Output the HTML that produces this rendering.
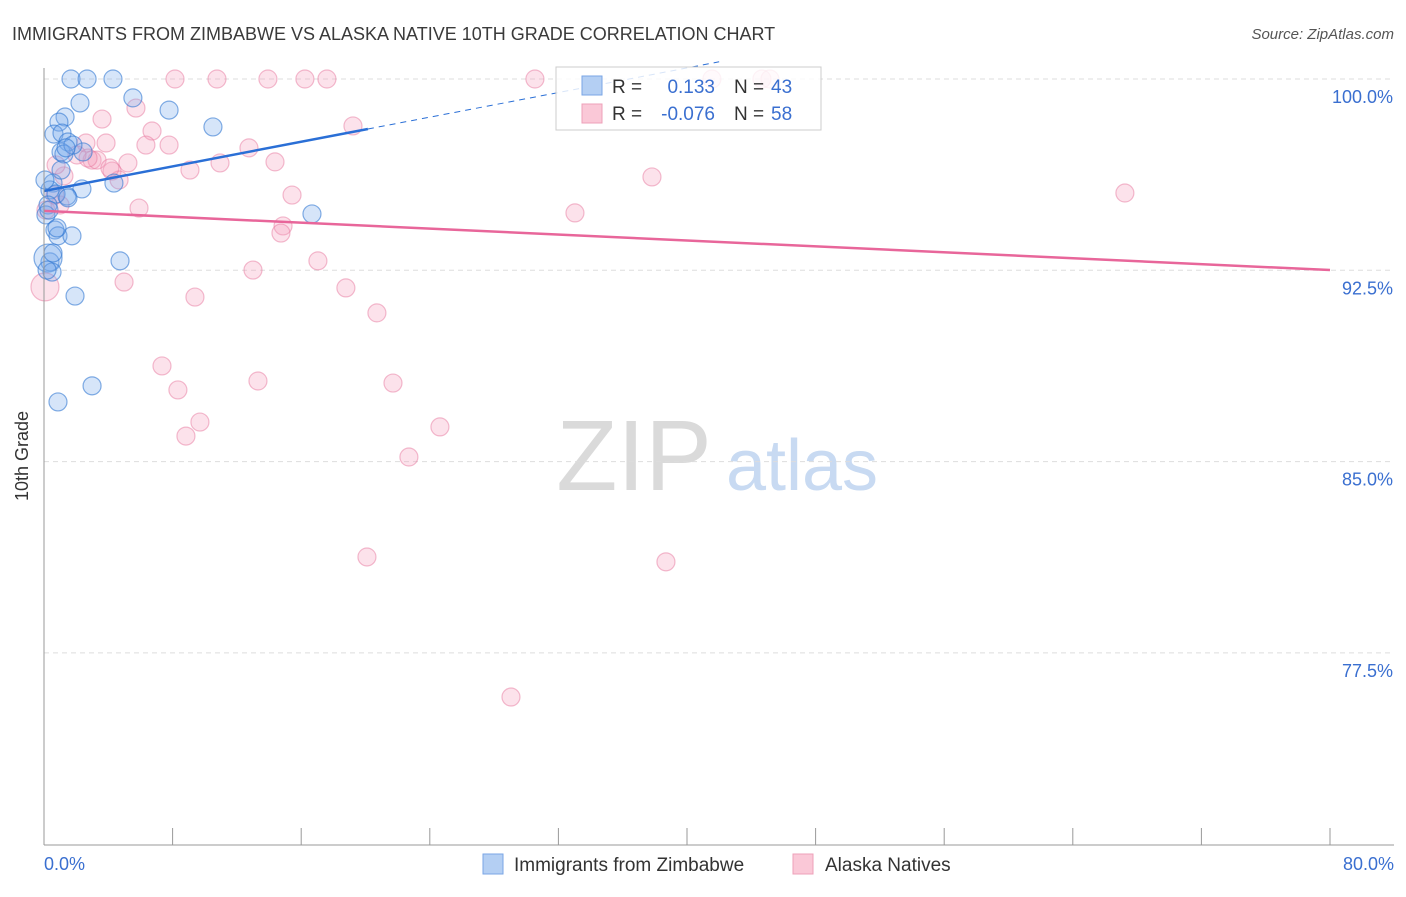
<!DOCTYPE html>
<html><head><meta charset="utf-8"><style>
body{margin:0;background:#fff;font-family:"Liberation Sans",sans-serif;}
svg text{font-family:"Liberation Sans",sans-serif;}
</style></head><body>
<svg id="c" width="1406" height="892" xmlns="http://www.w3.org/2000/svg">
<text x="12" y="40" font-size="18" fill="#3a3a3a">IMMIGRANTS FROM ZIMBABWE VS ALASKA NATIVE 10TH GRADE CORRELATION CHART</text>
<text x="1394" y="39" font-size="15" fill="#555" font-style="italic" text-anchor="end">Source: ZipAtlas.com</text>
<text x="634" y="490" font-size="100" fill="#dadada" font-family="Liberation Serif,serif" text-anchor="middle">ZIP</text>
<text x="802" y="490" font-size="72" fill="#c8daf2" text-anchor="middle">atlas</text>
<g id="grid"></g><g id="marks"></g>
<line x1="44" y1="68" x2="44" y2="845" stroke="#999"/>
<line x1="44" y1="845" x2="1394" y2="845" stroke="#999"/>
<text x="28" y="456" font-size="18" fill="#333" text-anchor="middle" transform="rotate(-90 28 456)">10th Grade</text>
<text x="44" y="870" font-size="18" fill="#3a6fd0">0.0%</text>
<text x="1394" y="870" font-size="18" fill="#3a6fd0" text-anchor="end">80.0%</text>
<g>
<rect x="556" y="67" width="265" height="63" fill="rgba(255,255,255,0.82)" stroke="#ccc"/>
<rect x="582" y="76" width="20" height="19" fill="#b4cff3" stroke="#7aa6e6"/>
<rect x="582" y="104" width="20" height="19" fill="#fac8d7" stroke="#eea0b8"/>
<text x="612" y="93" font-size="19" fill="#333">R =</text><text x="715" y="93" font-size="19" fill="#3a6fd0" text-anchor="end">0.133</text>
<text x="734" y="93" font-size="19" fill="#333">N =</text><text x="771" y="93" font-size="19" fill="#3a6fd0">43</text>
<text x="612" y="120" font-size="19" fill="#333">R =</text><text x="715" y="120" font-size="19" fill="#3a6fd0" text-anchor="end">-0.076</text>
<text x="734" y="120" font-size="19" fill="#333">N =</text><text x="771" y="120" font-size="19" fill="#3a6fd0">58</text>
</g>
<g><rect x="483" y="854" width="20" height="20" fill="#b4cff3" stroke="#7aa6e6"/><text x="514" y="871" font-size="19" fill="#333">Immigrants from Zimbabwe</text></g>
<g><rect x="793" y="854" width="20" height="20" fill="#fac8d7" stroke="#eea0b8"/><text x="825" y="871" font-size="19" fill="#333">Alaska Natives</text></g>
</svg>
<script>
const yTicks=[100,92.5,85,77.5];
const xTicks=[0,8,16,24,32,40,48,56,64,72,80];
const blueX=[1.68,2.68,4.29,5.53,2.24,7.78,10.51,1.31,0.93,0.62,1.12,1.49,1.06,1.24,2.43,1.80,0.56,0.37,2.36,1.43,0.75,4.35,1.06,0.25,0.12,0.68,0.87,1.74,16.67,0.37,0.25,4.73,0.50,1.93,2.99,0.87,1.49,0.06,0.31,0.81,0.56,0.19,1.37];
const blueY=[100,100,100,99.26,99.06,98.78,98.12,98.51,98.31,97.84,97.88,97.53,97.14,97.06,97.14,97.41,95.92,95.65,95.69,95.41,95.49,95.92,96.43,95.06,94.67,94.08,93.85,93.85,94.71,92.83,92.98,92.87,92.43,91.49,87.97,87.34,95.34,96.04,94.86,94.16,93.18,92.51,97.30];
const pinkX=[8.15,10.76,13.93,16.23,17.60,30.54,41.55,44.66,45.16,5.72,3.61,6.72,3.86,6.34,7.78,12.75,2.61,2.99,3.30,5.22,4.23,10.95,14.37,9.08,4.67,1.24,0.75,37.82,15.43,5.91,67.24,33.03,14.87,14.74,0.12,13.00,17.04,4.98,9.39,18.78,20.71,0.06,7.34,8.33,13.31,21.71,9.70,8.83,24.63,22.70,20.09,38.69,29.05,19.22,1.00,2.05,2.74,4.10,0.68];
const pinkY=[100,100,100,100,100,100,100,100,100,98.86,98.43,97.96,97.49,97.41,97.41,97.30,97.49,96.82,96.82,96.71,96.39,96.71,96.75,96.43,96.04,96.20,96.63,96.16,95.45,94.94,95.53,94.75,94.24,93.96,94.86,92.51,92.87,92.04,91.45,91.81,90.83,91.85,88.75,87.81,88.16,88.08,86.55,86.00,86.36,85.18,81.26,81.07,75.77,98.16,95.06,97.02,96.90,96.51,95.45];
const blueTrend=[95.61,0.1206];
const pinkTrend=[94.83,-0.029];
const X=v=>44+v/80*1286, Y=v=>79+(100-v)/7.5*191.3;
const NS="http://www.w3.org/2000/svg";
function mk(t,a,p){const e=document.createElementNS(NS,t);for(const k in a)e.setAttribute(k,a[k]);p.appendChild(e);return e;}
const g=document.getElementById('grid'),m=document.getElementById('marks');
yTicks.forEach(t=>{
 const l=mk('line',{x1:44,x2:1394,y1:Y(t),y2:Y(t),stroke:'#ddd','stroke-dasharray':'5,4'},g);
 
 
 const tx=mk('text',{x:1393,y:Y(t)+24,'font-size':18,fill:'#3a6fd0','text-anchor':'end'},g);
 tx.textContent=t.toFixed(1)+'%';
 
 
});
xTicks.forEach(t=>{
 const l=mk('line',{x1:X(t),x2:X(t),y1:828,y2:845,stroke:'#999'},g);
 
 
});
pinkX.forEach((v,i)=>{
 const c=mk('circle',{cx:X(v),cy:Y(pinkY[i]),r:(i==41?14:9),fill:'rgba(244,160,188,0.3)',stroke:'rgba(232,122,160,0.5)','stroke-width':1.2},m);
 
 
});
blueX.forEach((v,i)=>{
 const c=mk('circle',{cx:X(v),cy:Y(blueY[i]),r:(i==30?14:9),fill:'rgba(120,170,235,0.3)',stroke:'rgba(50,120,210,0.6)','stroke-width':1.2},m);
 
 
});
const bl=mk('line',{x1:X(0),y1:Y(blueTrend[0]),x2:X(20.15),y2:Y(blueTrend[0]+blueTrend[1]*20.15),stroke:'#2a6fd6','stroke-width':2.5},m);


const bd=mk('line',{x1:X(20.15),y1:Y(blueTrend[0]+blueTrend[1]*20.15),x2:X(42),y2:Y(blueTrend[0]+blueTrend[1]*42),stroke:'#2a6fd6','stroke-width':1,'stroke-dasharray':'6,5'},m);


const pl=mk('line',{x1:X(0),y1:Y(pinkTrend[0]),x2:X(80),y2:Y(pinkTrend[0]+pinkTrend[1]*80),stroke:'#e8669a','stroke-width':2.5},m);


</script>
</body></html>
